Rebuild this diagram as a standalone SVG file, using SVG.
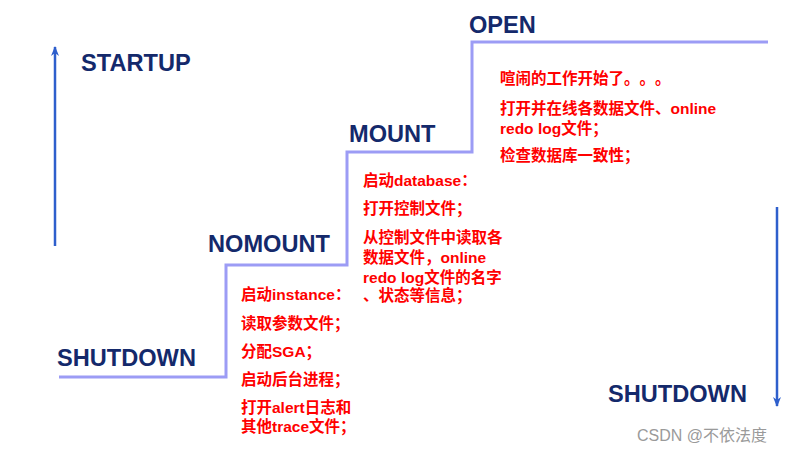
<svg xmlns="http://www.w3.org/2000/svg" width="789" height="452" viewBox="0 0 789 452">
<defs>
<style>
.lbl{font-family:"Liberation Sans",Arial,sans-serif;font-weight:bold;font-size:23.6px;fill:#14296b}
.note{font-family:"Liberation Sans","Noto Sans CJK SC",sans-serif;font-weight:bold;font-size:15.5px;fill:#ff0000;font-feature-settings:"chws" 0,"halt" 0;text-spacing-trim:space-all}
.stair{fill:none;stroke:#9c9cf5;stroke-width:3}
.dir{stroke:#2e5fcc;stroke-width:2.5;fill:none}
.wm{font-family:"Liberation Sans","Noto Sans CJK SC",sans-serif;font-size:16px;fill:#9a9a9a}
</style>
<marker id="ah" viewBox="0 0 10 10" refX="9" refY="5" markerWidth="4" markerHeight="5" orient="auto" markerUnits="strokeWidth">
<path d="M0,1 L10,5 L0,9 L3,5 Z" fill="#2e5fcc"/>
</marker>
</defs>
<rect width="789" height="452" fill="#ffffff"/>
<g id="connectors">
<path class="stair" d="M59,377 H226 V265 H347 V152 H472 V42 H768"/>
<line class="dir" x1="55" y1="246" x2="55" y2="47" marker-end="url(#ah)"/>
<line class="dir" x1="777" y1="207" x2="777" y2="406" marker-end="url(#ah)"/>
</g>
<g id="startup"><text class="lbl" x="81" y="71">STARTUP</text></g>
<g id="shutdown-left"><text class="lbl" x="57" y="366">SHUTDOWN</text></g>
<g id="nomount">
<text class="lbl" x="208" y="252">NOMOUNT</text>
<text class="note" x="241" y="300">启动instance：</text>
<text class="note" x="241" y="329">读取参数文件；</text>
<text class="note" x="241" y="357">分配SGA；</text>
<text class="note" x="241" y="385">启动后台进程；</text>
<text class="note" x="241" y="413">打开alert日志和</text>
<text class="note" x="241" y="432">其他trace文件；</text>
</g>
<g id="mount">
<text class="lbl" x="349" y="142">MOUNT</text>
<text class="note" x="363" y="186">启动database：</text>
<text class="note" x="363" y="214">打开控制文件；</text>
<text class="note" x="363" y="243">从控制文件中读取各</text>
<text class="note" x="363" y="263">数据文件，online</text>
<text class="note" x="363" y="283">redo log文件的名字</text>
<text class="note" x="363" y="301">、状态等信息；</text>
</g>
<g id="open">
<text class="lbl" x="469" y="33">OPEN</text>
<text class="note" x="500" y="84">喧闹的工作开始了。。。</text>
<text class="note" x="500" y="114">打开并在线各数据文件、online</text>
<text class="note" x="500" y="134">redo log文件；</text>
<text class="note" x="500" y="161">检查数据库一致性；</text>
</g>
<g id="shutdown-right"><text class="lbl" x="608" y="402">SHUTDOWN</text></g>
<text class="wm" x="637" y="441">CSDN @不依法度</text>
</svg>
